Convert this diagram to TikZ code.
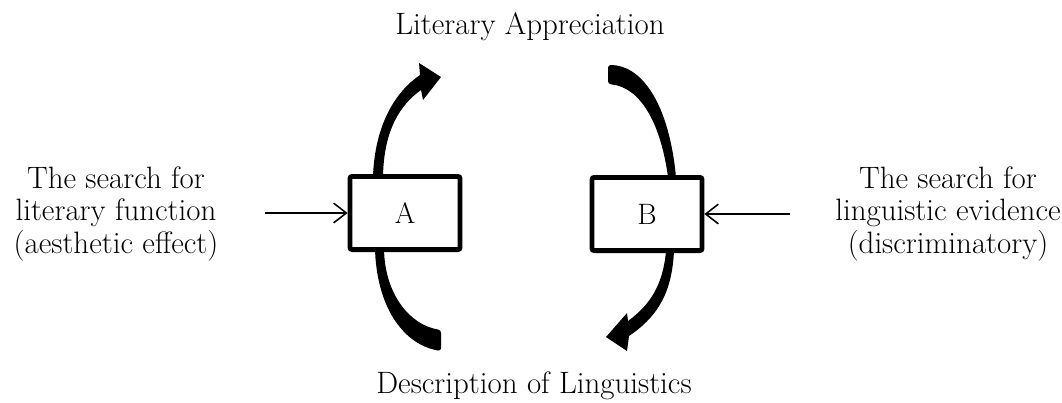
\documentclass[tikz,border=0pt]{standalone}
\usepackage{tikz}
\usetikzlibrary{arrows.meta}

\begin{document}
\begin{tikzpicture}[
  x=0.025cm, y=-0.025cm,
  box/.style={
    draw, line width=3.4pt, rounded corners=1.5pt,
    minimum width=2.75cm, minimum height=1.83cm,
    font=\fontsize{21}{23}\selectfont
  },
  txt/.style={align=center, font=\fontsize{22}{22.8}\selectfont},
  arr/.style={-{Straight Barb[length=9pt, width=14pt]}, line width=1.1pt},
  band/.style={fill=black}
]
\useasboundingbox (0,0) rectangle (1062,402);

%% ── BOXES ──
\node[box] (A) at (405,213) {A};
\node[box] (B) at (647,214) {B};

%% ── SIDE TEXTS ──
\node[txt] (L) at (116,214) {The search for\\literary function\\(aesthetic effect)};
\node[txt] (R) at (948,214) {The search for\\linguistic evidence\\(discriminatory)};

%% ── TOP / BOTTOM LABELS ──
\node[txt, anchor=base] (T) at (530,34) {Literary Appreciation};
\node[txt, anchor=base] (D) at (534,393) {Description of Linguistics};

%% ── SIDE ARROWS ──
\coordinate (Lin) at (265,213);
\coordinate (Rin) at (790,214);
\draw[arr] (Lin) -- (A.west);
\draw[arr] (Rin) -- (B.east);

%% ── CURVED BANDS ──
% A up to the top, with head
\fill[band] (373,176) .. controls (375,125) and (395,92) .. (420,75)
  -- (419,63) -- (441,77) -- (423,100) -- (421,90)
  .. controls (400,105) and (384,130) .. (383,176) -- cycle;
% top down to B
\fill[band, rounded corners=2pt] (608,65) .. controls (640,65) and (668,100) .. (676,177)
  -- (668,177) .. controls (660,122) and (640,87) .. (608,84) -- cycle;
% B down to the bottom, with head
\fill[band] (674,251) .. controls (672,290) and (660,315) .. (629,336)
  -- (627,351) -- (606,337) -- (627,313) -- (628,321)
  .. controls (650,305) and (663,285) .. (666,251) -- cycle;
% bottom up to A
\fill[band, rounded corners=2pt] (375,250) .. controls (378,310) and (405,345) .. (441,351)
  -- (441,330) .. controls (410,325) and (386,295) .. (384,250) -- cycle;

\end{tikzpicture}
\end{document}
